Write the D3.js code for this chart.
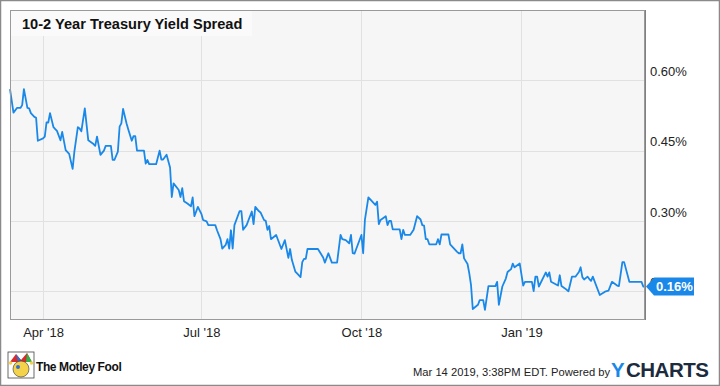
<!DOCTYPE html>
<html>
<head>
<meta charset="utf-8">
<script src="https://cdn.jsdelivr.net/npm/d3@7"></script>
<style>
  html, body { margin: 0; padding: 0; background: #fff; }
  svg { display: block; font-family: "Liberation Sans", Arial, Helvetica, sans-serif; }
</style>
</head>
<body>
<svg id="chart" width="720" height="386"></svg>
<script>
const title = "10-2 Year Treasury Yield Spread";

const dates = [
"2018-03-13","2018-03-15","2018-03-17","2018-03-19","2018-03-20","2018-03-21","2018-03-23","2018-03-24","2018-03-25","2018-03-27",
"2018-03-28","2018-03-29","2018-04-01","2018-04-02","2018-04-03","2018-04-04","2018-04-05","2018-04-07","2018-04-08","2018-04-09",
"2018-04-11","2018-04-12","2018-04-14","2018-04-16","2018-04-18","2018-04-19","2018-04-21","2018-04-22","2018-04-23","2018-04-25",
"2018-04-27","2018-04-30","2018-05-01","2018-05-02","2018-05-04","2018-05-06","2018-05-07","2018-05-10","2018-05-11","2018-05-12",
"2018-05-14","2018-05-15","2018-05-16","2018-05-17","2018-05-19","2018-05-20","2018-05-22","2018-05-23","2018-05-24","2018-05-25",
"2018-05-29","2018-05-30","2018-05-31","2018-06-01","2018-06-05","2018-06-07","2018-06-08","2018-06-09","2018-06-11","2018-06-13",
"2018-06-14","2018-06-15","2018-06-18","2018-06-19","2018-06-20","2018-06-21","2018-06-23","2018-06-25","2018-06-26","2018-06-27",
"2018-06-29","2018-07-01","2018-07-02","2018-07-04","2018-07-05","2018-07-09","2018-07-10","2018-07-12","2018-07-13","2018-07-15",
"2018-07-16","2018-07-17","2018-07-18","2018-07-19","2018-07-20","2018-07-23","2018-07-24","2018-07-25","2018-07-27","2018-07-30",
"2018-07-31","2018-08-01","2018-08-03","2018-08-04","2018-08-06","2018-08-07","2018-08-08","2018-08-09","2018-08-10","2018-08-13",
"2018-08-16","2018-08-18","2018-08-20","2018-08-21","2018-08-22","2018-08-24","2018-08-25","2018-08-27","2018-08-28","2018-08-29",
"2018-08-30","2018-08-31","2018-09-06","2018-09-09","2018-09-10","2018-09-12","2018-09-14","2018-09-17","2018-09-19","2018-09-20",
"2018-09-22","2018-09-24","2018-09-25","2018-09-26","2018-09-27","2018-10-01","2018-10-02","2018-10-03","2018-10-05","2018-10-09",
"2018-10-10","2018-10-11","2018-10-12","2018-10-15","2018-10-16","2018-10-17","2018-10-18","2018-10-19","2018-10-23","2018-10-24",
"2018-10-25","2018-10-26","2018-10-29","2018-10-31","2018-11-02","2018-11-04","2018-11-05","2018-11-06","2018-11-07","2018-11-08",
"2018-11-09","2018-11-13","2018-11-14","2018-11-15","2018-11-16","2018-11-20","2018-11-21","2018-11-23","2018-11-25","2018-11-26",
"2018-11-27","2018-11-28","2018-11-29","2018-12-01","2018-12-02","2018-12-03","2018-12-04","2018-12-07","2018-12-08","2018-12-10",
"2018-12-11","2018-12-13","2018-12-14","2018-12-17","2018-12-18","2018-12-19","2018-12-21","2018-12-23","2018-12-24","2018-12-26",
"2018-12-27","2018-12-28","2018-12-31","2019-01-02","2019-01-03","2019-01-07","2019-01-08","2019-01-09","2019-01-10","2019-01-11",
"2019-01-15","2019-01-16","2019-01-17","2019-01-18","2019-01-22","2019-01-23","2019-01-24","2019-01-26","2019-01-28","2019-01-30",
"2019-02-01","2019-02-03","2019-02-04","2019-02-05","2019-02-06","2019-02-08","2019-02-09","2019-02-10","2019-02-11","2019-02-15",
"2019-02-18","2019-02-20","2019-02-22","2019-02-25","2019-02-26","2019-02-28","2019-03-01","2019-03-04","2019-03-11","2019-03-12",
"2019-03-13"
];

const values = [
0.581,0.531,0.541,0.541,0.547,0.581,0.541,0.540,0.530,0.522,
0.520,0.471,0.476,0.480,0.510,0.510,0.530,0.500,0.496,0.492,
0.472,0.490,0.451,0.443,0.411,0.448,0.500,0.497,0.491,0.540,
0.472,0.464,0.460,0.480,0.441,0.450,0.460,0.460,0.430,0.430,
0.448,0.501,0.508,0.539,0.508,0.495,0.471,0.481,0.481,0.450,
0.450,0.422,0.430,0.421,0.421,0.450,0.431,0.431,0.441,0.414,
0.351,0.380,0.366,0.351,0.370,0.342,0.337,0.331,0.350,0.310,
0.330,0.315,0.302,0.299,0.291,0.291,0.280,0.261,0.241,0.249,
0.261,0.241,0.280,0.241,0.291,0.321,0.321,0.281,0.291,0.320,
0.293,0.330,0.321,0.318,0.302,0.300,0.281,0.289,0.261,0.270,
0.240,0.259,0.221,0.240,0.217,0.192,0.188,0.180,0.212,0.219,
0.219,0.240,0.240,0.222,0.211,0.231,0.211,0.211,0.270,0.261,
0.259,0.252,0.270,0.231,0.230,0.270,0.231,0.302,0.350,0.334,
0.341,0.293,0.302,0.310,0.291,0.300,0.300,0.282,0.282,0.261,
0.281,0.270,0.270,0.281,0.310,0.303,0.291,0.290,0.261,0.261,
0.250,0.250,0.261,0.250,0.271,0.271,0.250,0.242,0.234,0.231,
0.231,0.250,0.220,0.208,0.188,0.163,0.112,0.121,0.131,0.131,
0.110,0.161,0.161,0.161,0.170,0.121,0.160,0.177,0.191,0.197,
0.209,0.201,0.209,0.162,0.170,0.170,0.150,0.181,0.181,0.160,
0.190,0.181,0.190,0.170,0.162,0.184,0.161,0.156,0.150,0.181,
0.181,0.191,0.201,0.180,0.175,0.181,0.176,0.172,0.181,0.142,
0.149,0.151,0.170,0.162,0.161,0.212,0.212,0.170,0.170,0.160,
0.160
];

const yTicks = [0.15, 0.30, 0.45, 0.60];
const xTickDates = ["2018-04-01", "2018-07-01", "2018-10-01", "2019-01-01"];
const xTickLabels = ["Apr '18", "Jul '18", "Oct '18", "Jan '19"];
const domainDates = ["2018-03-13", "2019-03-13"];
const lastLabel = "0.16%";
const footerText = "Mar 14 2019, 3:38PM EDT.  Powered by";

const parse = d3.timeParse("%Y-%m-%d");
const data = dates.map((d, i) => ({ date: parse(d), value: values[i] }));

const svg = d3.select("#chart");
const L = 10, R = 645, T = 10, B = 320;

const x = d3.scaleTime().domain(domainDates.map(parse)).range([L, R]);
const y = d3.scaleLinear().domain([0.15, 0.60]).range([291.2, 80.3]);

// outer frame
svg.append("rect").attr("x", 0.5).attr("y", 0.5).attr("width", 719).attr("height", 385)
  .attr("fill", "#fff").attr("stroke", "#8a8a8a").attr("stroke-width", 1.5);

// plot background
svg.append("rect").attr("x", L).attr("y", T).attr("width", R - L).attr("height", B - T)
  .attr("fill", "#f6f6f6");

// gridlines
const gridG = svg.append("g");
gridG.selectAll("line.h").data(yTicks).join("line")
  .attr("x1", L).attr("x2", R)
  .attr("y1", d => Math.round(y(d)) + 0.5).attr("y2", d => Math.round(y(d)) + 0.5)
  .attr("stroke", "#e1e1e1").attr("stroke-width", 1);
gridG.selectAll("line.v").data(xTickDates).join("line")
  .attr("y1", T).attr("y2", B)
  .attr("x1", d => Math.round(x(parse(d))) + 0.5).attr("x2", d => Math.round(x(parse(d))) + 0.5)
  .attr("stroke", "#e1e1e1").attr("stroke-width", 1);

// title box
svg.append("rect").attr("x", L + 1).attr("y", T + 1).attr("width", 241).attr("height", 25)
  .attr("fill", "#fafafa");
svg.append("text").attr("x", 22).attr("y", 28.5)
  .attr("font-size", 14.6).attr("font-weight", "bold").attr("fill", "#111")
  .text(title);

// line
const line = d3.line().x(d => x(d.date)).y(d => y(d.value));
svg.append("path").datum(data).attr("d", line)
  .attr("fill", "none").attr("stroke", "#1a88e8").attr("stroke-width", 1.8)
  .attr("stroke-linejoin", "round");

// plot border
svg.append("rect").attr("x", L + 0.5).attr("y", T + 0.5).attr("width", R - L - 1).attr("height", B - T - 1)
  .attr("fill", "none").attr("stroke", "#9a9a9a").attr("stroke-width", 1);
svg.append("line").attr("x1", R + 0.5).attr("x2", R + 0.5).attr("y1", T).attr("y2", B)
  .attr("stroke", "#808080");

// right axis
const yAxis = d3.axisRight(y).tickValues(yTicks).tickSize(0).tickPadding(5)
  .tickFormat(d => d.toFixed(2) + "%");
const yG = svg.append("g").attr("transform", `translate(${R},0)`).call(yAxis);
yG.select(".domain").remove();
yG.selectAll("text").attr("font-size", 13).attr("fill", "#222").attr("dy", "-0.36em")
  .attr("font-family", "'Liberation Sans', Arial, sans-serif");

// bottom axis
const xAxis = d3.axisBottom(x).tickValues(xTickDates.map(parse)).tickSize(0).tickPadding(8)
  .tickFormat((d, i) => xTickLabels[i]);
const xG = svg.append("g").attr("transform", `translate(0,${B})`).call(xAxis);
xG.select(".domain").remove();
xG.selectAll("text").attr("font-size", 13).attr("fill", "#222")
  .attr("font-family", "'Liberation Sans', Arial, sans-serif");

// last value label
const last = data[data.length - 1];
const ly = y(last.value);
const lx = R + 1;
svg.append("path")
  .attr("d", `M${lx},${ly} L${lx + 8},${ly - 9} L${lx + 48},${ly - 9} L${lx + 48},${ly + 9} L${lx + 8},${ly + 9} Z`)
  .attr("fill", "#1a88e8");
svg.append("text").attr("x", lx + 10).attr("y", ly + 4.6)
  .attr("font-size", 13).attr("font-weight", "bold").attr("fill", "#fff")
  .text(lastLabel);

// footer: Motley Fool logo
const logo = svg.append("g").attr("transform", "translate(8,352)");
logo.append("rect").attr("x", 0).attr("y", 0).attr("width", 26).attr("height", 26).attr("fill", "#fff").attr("stroke", "#444").attr("stroke-width", 0.8);
logo.append("path").attr("d", "M2,10 L8,2 L13,8 L19,1 L24,10 Z").attr("fill", "#d62b2b");
logo.append("path").attr("d", "M8,2 L13,8 L10,10 Z").attr("fill", "#2f6fd6");
logo.append("path").attr("d", "M19,1 L24,10 L18,10 Z").attr("fill", "#2fb24a");
logo.append("ellipse").attr("cx", 13).attr("cy", 17).attr("rx", 8).attr("ry", 8).attr("fill", "#f4d24a").attr("stroke", "#333").attr("stroke-width", 0.6);
logo.append("circle").attr("cx", 10).attr("cy", 15).attr("r", 2).attr("fill", "#2f6fd6");
logo.append("circle").attr("cx", 2.5).attr("cy", 11).attr("r", 1.8).attr("fill", "#f4d24a");
logo.append("circle").attr("cx", 23.5).attr("cy", 11).attr("r", 1.8).attr("fill", "#f4d24a");
svg.append("text").attr("x", 36).attr("y", 371)
  .attr("font-size", 12).attr("font-weight", "bold").attr("fill", "#111")
  .attr("letter-spacing", "-0.4")
  .text("The Motley Fool");

// footer right
svg.append("text").attr("x", 413).attr("y", 376)
  .attr("font-size", 11.2).attr("fill", "#222")
  .text(footerText);
svg.append("text").attr("x", 611).attr("y", 377)
  .attr("font-size", 20.5).attr("font-weight", "bold").attr("fill", "#1a88e8")
  .text("Y");
svg.append("text").attr("x", 626).attr("y", 377)
  .attr("font-size", 20.5).attr("font-weight", "bold").attr("fill", "#1c2b3d")
  .attr("letter-spacing", "-0.5")
  .text("CHARTS");
</script>
</body>
</html>
